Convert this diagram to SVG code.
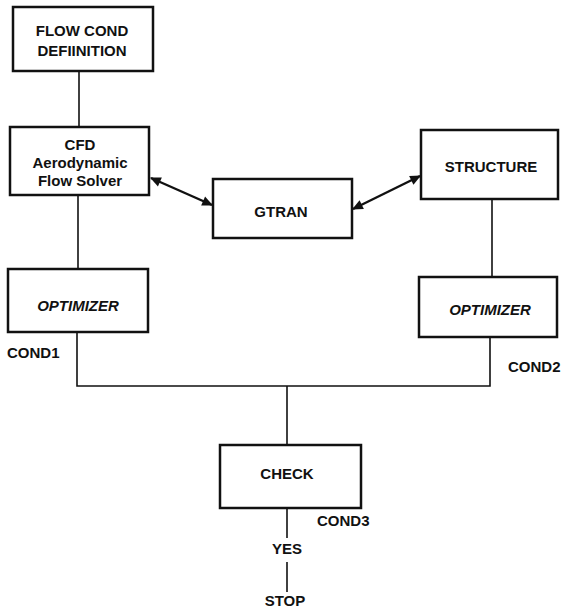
<svg xmlns="http://www.w3.org/2000/svg" width="561" height="613" viewBox="0 0 561 613">
<style>
.box{fill:#fff;stroke:#111;stroke-width:2.5}
.ln{fill:none;stroke:#111;stroke-width:1.6}
.ar{fill:none;stroke:#111;stroke-width:2.4}
text{font-family:"Liberation Sans",Arial,sans-serif;font-size:15px;font-weight:bold;fill:#111}
.c{text-anchor:middle}
.i{font-style:italic}
</style>
<defs>
<marker id="ah" viewBox="0 0 10 10" refX="9" refY="5" markerWidth="5" markerHeight="4.5" orient="auto-start-reverse" markerUnits="strokeWidth">
<path d="M0,0.5 L10,5 L0,9.5 Z" fill="#111"/>
</marker>
</defs>
<rect width="561" height="613" fill="#fff"/>
<g id="connectors">
<line class="ln" x1="79" y1="71" x2="79" y2="127"/>
<line class="ln" x1="78" y1="195" x2="78" y2="269"/>
<line class="ln" x1="492" y1="199" x2="492" y2="277"/>
<polyline class="ln" points="77,332 77,386 490,386 490,337"/>
<line class="ln" x1="287" y1="386" x2="287" y2="445"/>
<line class="ln" x1="287" y1="508" x2="287" y2="538"/>
<line class="ln" x1="287" y1="562" x2="287" y2="592"/>
<line class="ar" x1="151" y1="178" x2="212" y2="205" marker-start="url(#ah)" marker-end="url(#ah)"/>
<line class="ar" x1="420" y1="176" x2="353" y2="209" marker-start="url(#ah)" marker-end="url(#ah)"/>
</g>
<g id="flowcond">
<rect class="box" x="13" y="7" width="140" height="64"/>
<text class="c" x="82" y="36">FLOW COND</text>
<text class="c" x="82" y="56">DEFIINITION</text>
</g>
<g id="cfd">
<rect class="box" x="10" y="127" width="139" height="68"/>
<text class="c" x="80" y="150">CFD</text>
<text class="c" x="80" y="168">Aerodynamic</text>
<text class="c" x="80" y="186">Flow Solver</text>
</g>
<g id="gtran">
<rect class="box" x="213" y="179" width="139" height="59"/>
<text class="c" x="281" y="217">GTRAN</text>
</g>
<g id="structure">
<rect class="box" x="421" y="130" width="137" height="69"/>
<text class="c" x="491" y="172">STRUCTURE</text>
</g>
<g id="optimizer1">
<rect class="box" x="8" y="269" width="140" height="63"/>
<text class="c i" x="78" y="311">OPTIMIZER</text>
</g>
<g id="optimizer2">
<rect class="box" x="419" y="277" width="138" height="60"/>
<text class="c i" x="490" y="315">OPTIMIZER</text>
</g>
<g id="check">
<rect class="box" x="220" y="445" width="141" height="63"/>
<text class="c" x="287" y="479">CHECK</text>
</g>
<g id="labels">
<text x="7" y="358">COND1</text>
<text x="508" y="372">COND2</text>
<text x="317" y="526">COND3</text>
<text class="c" x="287" y="554">YES</text>
<text class="c" x="285" y="606">STOP</text>
</g>
</svg>
